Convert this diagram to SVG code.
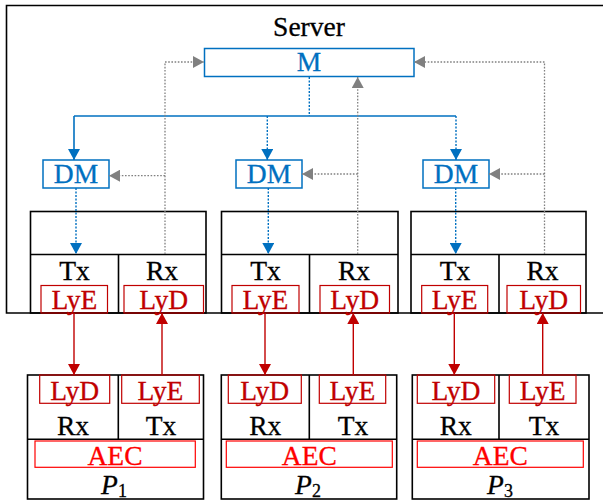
<svg xmlns="http://www.w3.org/2000/svg" width="603" height="500" viewBox="0 0 603 500">
<defs>
<style>
text{font-family:"Liberation Serif","Times New Roman",serif;font-size:27.5px;text-anchor:middle;stroke-width:0.3}
.blk{fill:none;stroke:#000;stroke-width:1.6}
.bbox{fill:#fff;stroke:#0070C0;stroke-width:1.5}
.btxt{fill:#0070C0;stroke:#0070C0}
.rbox{fill:none;stroke:#C00000;stroke-width:1.2}
.rtxt{fill:#C00000;stroke:#C00000}
.abox{fill:none;stroke:#FF0000;stroke-width:1.2}
.atxt{fill:#FF0000;stroke:#FF0000}
.ktxt{fill:#000;stroke:#000}
.bsol{fill:none;stroke:#0070C0;stroke-width:1.6}
.bdot{fill:none;stroke:#0070C0;stroke-width:1.4;stroke-dasharray:2 1.5}
.gdot{fill:none;stroke:#808080;stroke-width:1.3;stroke-dasharray:1.6 1.6}
.red{fill:none;stroke:#C00000;stroke-width:1.4}
</style>
<marker id="ab" markerUnits="userSpaceOnUse" markerWidth="12" markerHeight="12" refX="11" refY="6" orient="auto"><path d="M0,0 L11,6 L0,12 z" fill="#0070C0"/></marker>
<marker id="ag" markerUnits="userSpaceOnUse" markerWidth="12" markerHeight="12" refX="11" refY="6" orient="auto"><path d="M0,0 L11,6 L0,12 z" fill="#808080"/></marker>
<marker id="ar" markerUnits="userSpaceOnUse" markerWidth="12" markerHeight="12" refX="11" refY="6" orient="auto"><path d="M0,0 L11,6 L0,12 z" fill="#C00000"/></marker>
</defs>
<rect width="603" height="500" fill="#fff"/>

<g id="server">
<path class="blk" d="M604,5.5 H6.5 V313 H604" stroke-width="1.8"/>
<text x="309" y="36" class="ktxt">Server</text>
</g>

<g id="M">
<rect class="bbox" x="204.5" y="48.5" width="209.5" height="28"/>
<text x="309" y="71" class="btxt">M</text>
</g>

<g id="DM1">
<rect class="bbox" x="43" y="160" width="66" height="28"/>
<text x="76" y="183" class="btxt">DM</text>
</g>
<g id="DM2">
<rect class="bbox" x="236" y="160" width="66" height="28"/>
<text x="269" y="183" class="btxt">DM</text>
</g>
<g id="DM3">
<rect class="bbox" x="423" y="160" width="66" height="28"/>
<text x="456" y="183" class="btxt">DM</text>
</g>

<g id="S1">
<rect class="blk" x="30.5" y="211.5" width="175.5" height="101.5"/>
<path class="blk" d="M30.5,254.5 H206 M118.5,254.5 V313"/>
<text x="74.5" y="280" class="ktxt">Tx</text>
<text x="162" y="280" class="ktxt">Rx</text>
<rect class="rbox" x="41" y="285.5" width="66.5" height="27.5"/>
<text x="74.3" y="309" class="rtxt">LyE</text>
<rect class="rbox" x="124" y="285.5" width="79.5" height="27.5"/>
<text x="163.7" y="309" class="rtxt">LyD</text>
</g>
<g id="S2">
<rect class="blk" x="221.5" y="211.5" width="176.5" height="101.5"/>
<path class="blk" d="M221.5,254.5 H398 M309.5,254.5 V313"/>
<text x="265.5" y="280" class="ktxt">Tx</text>
<text x="354" y="280" class="ktxt">Rx</text>
<rect class="rbox" x="232" y="285.5" width="67" height="27.5"/>
<text x="265.5" y="309" class="rtxt">LyE</text>
<rect class="rbox" x="320" y="285.5" width="69.5" height="27.5"/>
<text x="354.7" y="309" class="rtxt">LyD</text>
</g>
<g id="S3">
<rect class="blk" x="411" y="211.5" width="175" height="101.5"/>
<path class="blk" d="M411,254.5 H586 M499,254.5 V313"/>
<text x="455" y="280" class="ktxt">Tx</text>
<text x="542.5" y="280" class="ktxt">Rx</text>
<rect class="rbox" x="421.7" y="285.5" width="66" height="27.5"/>
<text x="454.7" y="309" class="rtxt">LyE</text>
<rect class="rbox" x="507" y="285.5" width="73.5" height="27.5"/>
<text x="543.7" y="309" class="rtxt">LyD</text>
</g>

<g id="P1">
<rect class="blk" x="27.5" y="375" width="176" height="124"/>
<path class="blk" d="M118.3,375 V439.3 M27.5,439.3 H203.5"/>
<rect class="rbox" x="39.7" y="375" width="70" height="28.3"/>
<text x="74.7" y="399.5" class="rtxt">LyD</text>
<rect class="rbox" x="121.7" y="375" width="77.6" height="28.3"/>
<text x="160.5" y="399.5" class="rtxt">LyE</text>
<text x="73" y="435" class="ktxt">Rx</text>
<text x="161" y="435" class="ktxt">Tx</text>
<rect class="abox" x="35" y="441" width="160.3" height="26.3"/>
<text x="115" y="464.5" class="atxt">AEC</text>
<text x="114" y="494" class="ktxt"><tspan font-style="italic">P</tspan><tspan font-size="18" dy="3">1</tspan></text>
</g>
<g id="P2">
<rect class="blk" x="221.3" y="375" width="175.4" height="124"/>
<path class="blk" d="M309.3,375 V439.3 M221.3,439.3 H396.7"/>
<rect class="rbox" x="228.3" y="375" width="73" height="28.3"/>
<text x="264.8" y="399.5" class="rtxt">LyD</text>
<rect class="rbox" x="319.3" y="375" width="66.4" height="28.3"/>
<text x="352.5" y="399.5" class="rtxt">LyE</text>
<text x="265.3" y="435" class="ktxt">Rx</text>
<text x="353" y="435" class="ktxt">Tx</text>
<rect class="abox" x="226.3" y="441" width="166" height="26.3"/>
<text x="309.3" y="464.5" class="atxt">AEC</text>
<text x="308" y="494" class="ktxt"><tspan font-style="italic">P</tspan><tspan font-size="18" dy="3">2</tspan></text>
</g>
<g id="P3">
<rect class="blk" x="412.3" y="375" width="176.7" height="124"/>
<path class="blk" d="M499,375 V439.3 M412.3,439.3 H589"/>
<rect class="rbox" x="417.3" y="375" width="77.4" height="28.3"/>
<text x="456" y="399.5" class="rtxt">LyD</text>
<rect class="rbox" x="509.3" y="375" width="66.7" height="28.3"/>
<text x="542.6" y="399.5" class="rtxt">LyE</text>
<text x="455.7" y="435" class="ktxt">Rx</text>
<text x="544" y="435" class="ktxt">Tx</text>
<rect class="abox" x="417.3" y="441" width="166" height="26.3"/>
<text x="500.3" y="464.5" class="atxt">AEC</text>
<text x="500" y="494" class="ktxt"><tspan font-style="italic">P</tspan><tspan font-size="18" dy="3">3</tspan></text>
</g>

<g id="connectors">
<path class="bdot" d="M309.3,77 V116"/>
<path class="bsol" d="M74,116 H456"/>
<path class="bsol" d="M74,116 V160" marker-end="url(#ab)"/>
<path class="bdot" d="M267.3,116 V160" marker-end="url(#ab)"/>
<path class="bdot" d="M456,116 V160" marker-end="url(#ab)"/>
<path class="bdot" d="M76,188 V254" marker-end="url(#ab)"/>
<path class="bdot" d="M268.3,188 V254" marker-end="url(#ab)"/>
<path class="bdot" d="M455.7,188 V254" marker-end="url(#ab)"/>

<path class="gdot" d="M165,254 V62 H204" marker-end="url(#ag)"/>
<path class="gdot" d="M165,175.7 H109" marker-end="url(#ag)"/>
<path class="gdot" d="M357.7,254 V77" marker-end="url(#ag)"/>
<path class="gdot" d="M357.7,174 H302" marker-end="url(#ag)"/>
<path class="gdot" d="M544.5,254 V62 H414" marker-end="url(#ag)"/>
<path class="gdot" d="M544.5,174 H489" marker-end="url(#ag)"/>

<path class="red" d="M74,313 V375" marker-end="url(#ar)"/>
<path class="red" d="M162,375 V313" marker-end="url(#ar)"/>
<path class="red" d="M265,313 V375" marker-end="url(#ar)"/>
<path class="red" d="M353.3,375 V313" marker-end="url(#ar)"/>
<path class="red" d="M454.3,313 V375" marker-end="url(#ar)"/>
<path class="red" d="M542.7,375 V313" marker-end="url(#ar)"/>
</g>
</svg>
